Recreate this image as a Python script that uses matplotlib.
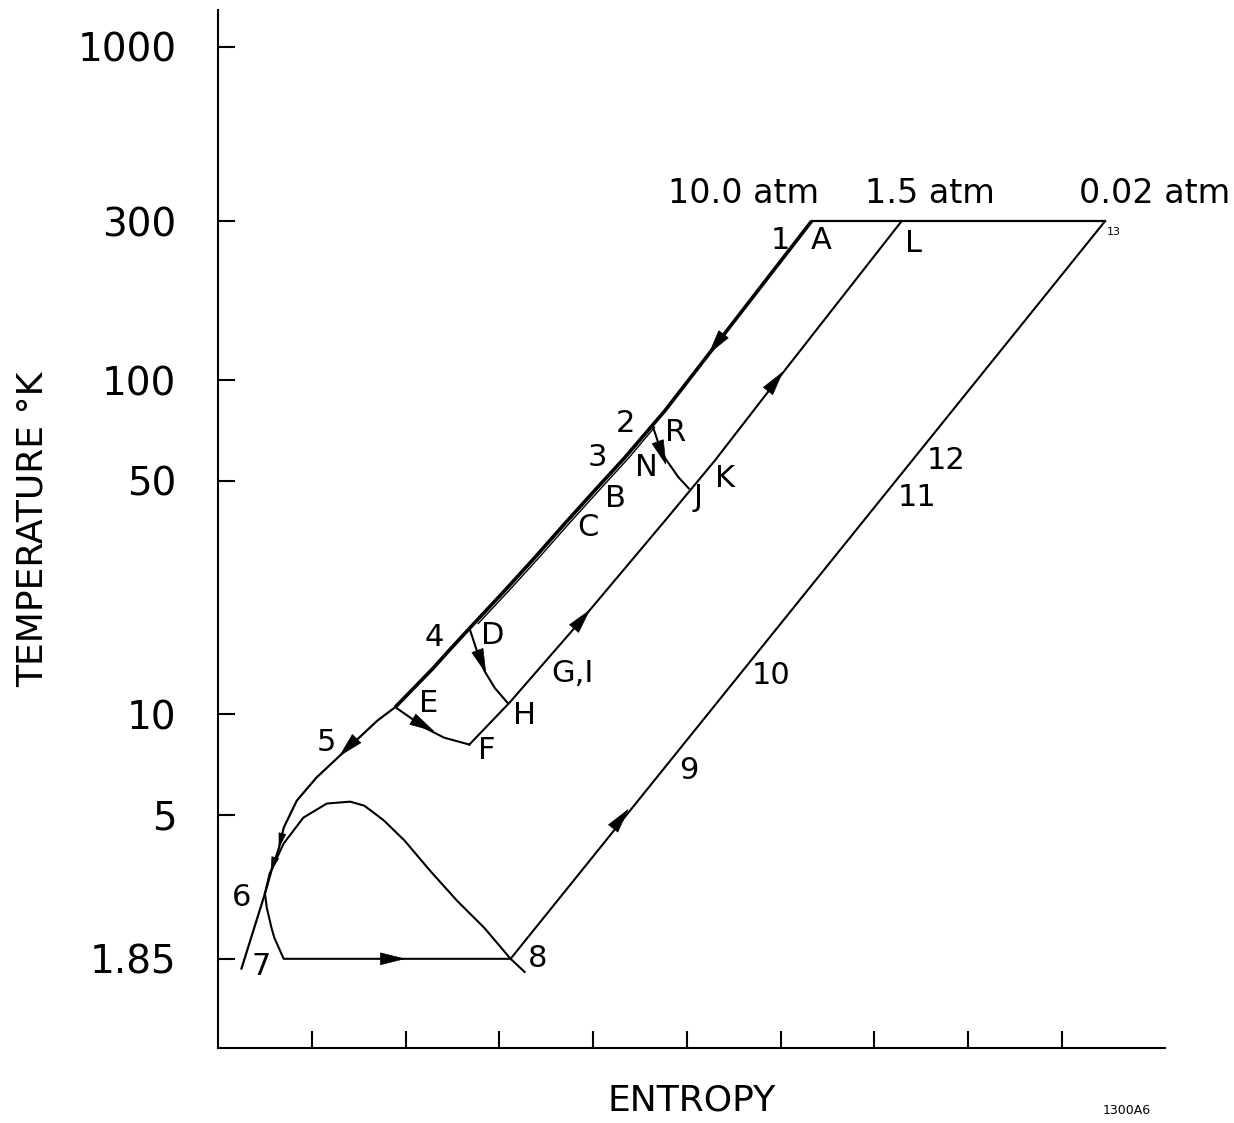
import numpy as np
import matplotlib
matplotlib.use("Agg")
import matplotlib.pyplot as plt

plt.rcParams['font.family'] = ['DejaVu Sans']

# ---------------------------------------------------------
# data (entropy in tick units, T in K)
# ---------------------------------------------------------
s_10atm = [6.33, 4.77, 4.34, 4.02, 3.70, 3.38, 3.06, 2.73, 2.48, 2.29, 1.89]
t_10atm = [300, 81.4, 58.8, 46.9, 37.3, 29.5, 23.5, 18.7, 15.7, 13.7, 10.5]

s_10atm_low = [1.89, 1.70, 1.38, 1.05, 0.84, 0.70, 0.65, 0.57, 0.50, 0.25]
t_10atm_low = [10.5, 9.57, 7.89, 6.46, 5.51, 4.57, 3.98, 3.40, 2.90, 1.73]

s_double = [4.61, 4.34, 4.02, 3.70, 3.38, 3.06, 2.73]
t_double = [72.4, 58.8, 46.9, 37.3, 29.5, 23.5, 18.7]

s_15atm = [2.68, 3.11, 3.89, 4.77, 5.30, 5.96, 7.29]
t_15atm = [8.11, 10.84, 19.36, 38.1, 57.6, 100, 300]

s_002atm = [3.12, 9.46]
t_002atm = [1.85, 300]

s_top = [6.33, 9.46]
t_top = [300, 300]

s_dome = [0.50, 0.55, 0.70, 0.91, 1.16, 1.30, 1.41, 1.56, 1.66, 1.77, 1.99, 2.26, 2.55,
          2.84, 3.12, 3.27]
t_dome = [2.90, 3.33, 4.10, 4.90, 5.40, 5.44, 5.47, 5.32, 5.07, 4.80, 4.18, 3.40, 2.76,
          2.29, 1.85, 1.69]

s_67 = [0.50, 0.52, 0.57, 0.60, 0.70, 3.12]
t_67 = [2.90, 2.63, 2.29, 2.14, 1.85, 1.85]

s_rj = [4.64, 4.715, 4.77, 4.91, 5.02]
t_rj = [72.4, 62.6, 58.4, 51.3, 47.5]

s_dh = [2.69, 2.77, 2.84, 2.95, 3.09]
t_dh = [17.8, 15.2, 13.5, 12.0, 10.8]

s_ef = [1.89, 2.05, 2.20, 2.41, 2.68]
t_ef = [10.5, 9.77, 9.12, 8.51, 8.11]

# arrows: (s_tail, t_tail, s_head, t_head, size)
arrows = [
    (5.40, 138.5, 5.23, 119.8, 17),
    (1.48, 8.46, 1.29, 7.47, 17),
    (3.80, 18.1, 3.97, 20.6, 17),
    (5.88, 94.1, 6.03, 106.6, 17),
    (4.22, 4.57, 4.38, 5.21, 17),
    (1.78, 1.85, 2.00, 1.85, 17),
    (4.715, 62.6, 4.78, 55.7, 17),
    (2.79, 14.9, 2.86, 13.2, 17),
    (2.12, 9.51, 2.31, 8.87, 17),
    (0.68, 4.32, 0.647, 3.96, 10),
    (0.60, 3.64, 0.561, 3.36, 10),
]

point_labels = ["1", "A", "L", "2", "R", "3", "N", "B", "J", "K", "C", "12", "11",
                "4", "D", "G,I", "10", "E", "H", "5", "F", "9", "6", "7", "8"]
point_s = [6.00, 6.43, 7.42, 4.35, 4.88, 4.05, 4.57, 4.24, 5.12, 5.41, 3.94, 7.77, 7.46,
           2.31, 2.93, 3.78, 5.90, 2.25, 3.27, 1.16, 2.87, 5.02, 0.25, 0.46, 3.41]
point_t = [263, 263, 258, 74.4, 69.9, 58.8, 54.9, 44.4, 44.5, 50.9, 36.3, 57.6, 44.5,
           17.0, 17.2, 13.2, 13.1, 10.8, 9.91, 8.23, 7.78, 6.78, 2.82, 1.76, 1.86]

atm_labels = ["10.0 atm", "1.5 atm", "0.02 atm"]
atm_s = [5.60, 7.59, 9.99]
atm_t = [364, 364, 364]

yticks = [1.85, 5, 10, 50, 100, 300, 1000]
ytick_labels = ["1.85", "5", "10", "50", "100", "300", "1000"]

# ---------------------------------------------------------
fig = plt.figure(figsize=(12.34, 11.23), dpi=100)
ax = fig.add_axes([0.1767, 0.0668, 0.7674, 0.9245])
ax.set_yscale("log")
ax.set_xlim(0, 10.1)
ax.set_ylim(1.0, 1290)

ax.plot(s_10atm, t_10atm, color="k", lw=2.6, solid_capstyle="butt")
ax.plot(s_10atm_low, t_10atm_low, color="k", lw=1.6)
ax.plot(np.array(s_double) + 0.045, t_double, color="k", lw=1.0)
ax.plot(s_15atm, t_15atm, color="k", lw=1.5)
ax.plot(s_002atm, t_002atm, color="k", lw=1.5)
ax.plot(s_top, t_top, color="k", lw=1.6)
ax.plot(s_dome, t_dome, color="k", lw=1.5)
ax.plot(s_67, t_67, color="k", lw=1.5)
ax.plot(s_rj, t_rj, color="k", lw=1.5)
ax.plot(s_dh, t_dh, color="k", lw=1.5)
ax.plot(s_ef, t_ef, color="k", lw=1.5)

for s0, t0, s1, t1, ms in arrows:
    ax.annotate("", xy=(s1, t1), xytext=(s0, t0),
                arrowprops=dict(arrowstyle="-|>,head_length=1.0,head_width=0.25",
                                color="k", lw=0.5, shrinkA=0, shrinkB=0,
                                mutation_scale=ms))

for lab, s, t in zip(point_labels, point_s, point_t):
    ax.text(s, t, lab, fontsize=22, ha="center", va="center")
ax.text(9.55, 278, "13", fontsize=8, ha="center", va="center")

for lab, s, t in zip(atm_labels, atm_s, atm_t):
    ax.text(s, t, lab, fontsize=24, ha="center", va="center")

# axes styling
ax.spines["top"].set_visible(False)
ax.spines["right"].set_visible(False)
ax.spines["left"].set_linewidth(1.5)
ax.spines["bottom"].set_linewidth(1.5)

ax.set_yticks(yticks)
ax.set_yticklabels(ytick_labels)
ax.minorticks_off()
ax.set_xticks(range(1, 10))
ax.set_xticklabels([])
ax.tick_params(axis="both", direction="in", length=12, width=1.5)
ax.tick_params(axis="y", labelsize=28, pad=30)

ax.set_xlabel("ENTROPY", fontsize=26, labelpad=22)
ax.set_ylabel("TEMPERATURE °K", fontsize=26, labelpad=20)

fig.text(1127 / 1234, 1 - 1110 / 1123, "1300A6", fontsize=9, ha="center", va="center")

fig.savefig("out.png", dpi=100)
